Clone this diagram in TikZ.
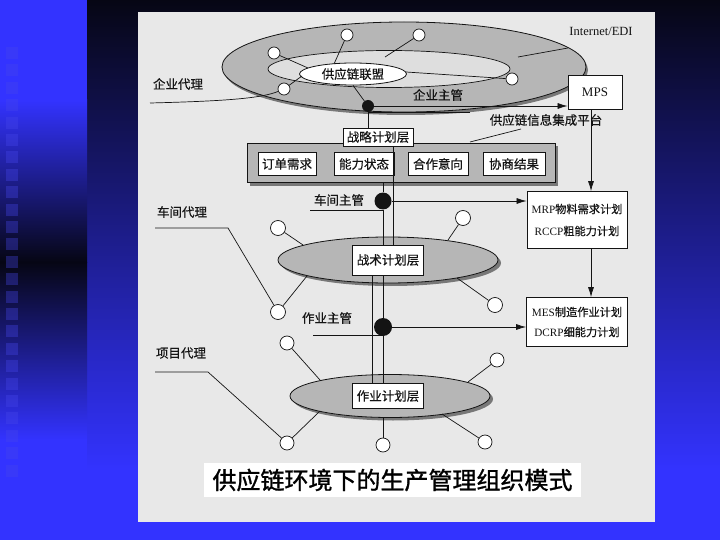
\documentclass[tikz,border=0pt]{standalone}
\usepackage{fontspec}
\setmainfont{Liberation Serif}
\newfontfamily\cjk[FakeBold=0.4]{Noto Sans CJK SC}
\newfontfamily\cjkcap[FakeBold=1.2]{Noto Sans CJK SC}
\usetikzlibrary{shapes.geometric,arrows.meta}
\definecolor{bgblue}{RGB}{51,51,255}
\definecolor{darkbg}{RGB}{6,6,20}
\definecolor{paper}{RGB}{232,232,232}
\definecolor{pat}{RGB}{182,182,182}
\definecolor{holegray}{RGB}{222,222,222}
\definecolor{shadowgray}{RGB}{120,120,120}
\definecolor{ink}{RGB}{20,20,20}
\definecolor{sqblue}{RGB}{70,70,235}
\begin{document}
\begin{tikzpicture}[x=1pt,y=-1pt,
  lbl/.style={font=\cjk\fontsize{12.5}{14}\selectfont, text=ink, inner sep=1pt},
  box/.style={draw=ink, fill=white, line width=0.8pt, text=ink, inner sep=0pt, font=\fontsize{12.5}{14}\selectfont},
  zbox/.style={box, font=\cjk\fontsize{12.5}{14}\selectfont},
  rbox/.style={box, align=center, font=\fontsize{11.2}{13}\selectfont},
  sc/.style={circle, draw=ink, fill=white, line width=0.7pt, minimum size=12pt, inner sep=0pt},
  scb/.style={sc, minimum size=15pt},
  dotn/.style={circle, fill=ink, inner sep=0pt},
  ln/.style={draw=ink, line width=0.7pt},
  arr/.style={ln, -{Latex[length=10pt,width=6pt]}},
  gell/.style={ellipse, draw=ink, fill=pat, line width=0.8pt, inner sep=0pt},
  shell/.style={ellipse, fill=shadowgray, inner sep=0pt}
]
\useasboundingbox (0,0) rectangle (720,540);
% ---------- background ----------
\fill[bgblue] (0,0) rectangle (720,540);
\shade[top color=darkbg, bottom color=bgblue] (87,0) rectangle (720,470);
\shade[top color=bgblue, bottom color=darkbg] (0,100) rectangle (87,262);
\shade[top color=darkbg, bottom color=bgblue] (0,262) rectangle (87,440);
\foreach \i in {0,...,24} \fill[sqblue, opacity=0.35] (6,47+\i*17.4) rectangle ++(12,12);
% ---------- paper ----------
\fill[paper] (138,12) rectangle (655,522);
% ---------- ring ----------
\node[shell, minimum width=364pt, minimum height=90pt] at (406,70) {};
\node[gell, minimum width=364pt, minimum height=90pt] (ring) at (404,67) {};
\node[ellipse, draw=ink, fill=holegray, line width=0.7pt, minimum width=242pt, minimum height=37pt, inner sep=0pt] (hole) at (389,69) {};
\node[ellipse, draw=ink, fill=white, line width=0.8pt, minimum width=107pt, minimum height=22pt, inner sep=0pt, font=\cjk\fontsize{12.5}{14}\selectfont, text=ink] (alli) at (353,74) {供应链联盟};
\node[sc] (ca) at (347,35) {};
\node[sc] (cb) at (419,35) {};
\node[sc] (cc) at (274,53) {};
\node[sc] (cd) at (284,89) {};
\node[sc] (ce) at (512,79) {};
\coordinate (ea) at (334,64);
\coordinate (eb) at (385,57);
\coordinate (ec) at (308,68);
\coordinate (ed) at (302,76);
\coordinate (ee) at (406,72);
\draw[ln] (ca) -- (ea);
\draw[ln] (cb) -- (eb);
\draw[ln] (cc) -- (ec);
\draw[ln] (cd) -- (ed);
\draw[ln] (ce) -- (ee);
\node[font=\fontsize{12.5}{14}\selectfont, text=ink] (inet) at (601,31) {Internet/EDI};
\coordinate (ia) at (518,57);
\coordinate (ib) at (568,48);
\draw[ln] (ia) -- (ib);
% enterprise agent
\node[lbl] (qydl) at (178,84) {企业代理};
\coordinate (qa) at (150,103);
\draw[ln] (qa) .. controls (230,101) and (262,98) .. (cd);
% ---------- strategic layer ----------
\fill[shadowgray] (250,146) rectangle (558,186);
\node[draw=ink, fill=pat, line width=0.8pt, minimum width=308pt, minimum height=39pt, inner sep=0pt] (panel) at (401,162.5) {};
\node[zbox, minimum width=58pt, minimum height=23pt] (b1) at (287,164) {订单需求};
\node[zbox, minimum width=60pt, minimum height=23pt] (b2) at (364,164) {能力状态};
\node[zbox, minimum width=60pt, minimum height=23pt] (b3) at (438,164) {合作意向};
\node[zbox, minimum width=62pt, minimum height=23pt] (b4) at (514,164) {协商结果};
\node[zbox, minimum width=70pt, minimum height=18pt] (zl) at (378,137) {战略计划层};
\node[lbl] (plat) at (546,120) {供应链信息集成平台};
\coordinate (pa) at (470,142);
\coordinate (pb) at (521,129);
\draw[ln] (pa) -- (pb);
% enterprise manager
\node[dotn, minimum size=12pt] (qyzg) at (368,106) {};
\node[lbl] (qyzgl) at (438,95) {企业主管};
\node[box, minimum width=54pt, minimum height=34pt, font=\fontsize{13}{15}\selectfont] (mps) at (595,92) {MPS};
\coordinate (qb) at (470,112);
\draw[ln] (alli.south) -- (qyzg);
\draw[arr] (qyzg) -- (qyzg -| mps.west);
\draw[ln] (qyzg |- qb) -- (qb);
\draw[ln] (qyzg) -- (qyzg |- zl.north);
% right column boxes
\node[rbox, minimum width=100pt, minimum height=57pt] (mrp) at (577,220) {MRP{\cjk 物料需求计划}\\[9pt]RCCP{\cjk 粗能力计划}};
\node[rbox, minimum width=101pt, minimum height=49pt] (mes) at (577,322) {MES{\cjk 制造作业计划}\\[7pt]DCRP{\cjk 细能力计划}};
\coordinate (vx) at (591,0);
\draw[arr] (mps.south -| vx) -- (mrp.north -| vx);
\draw[arr] (mrp.south -| vx) -- (mes.north -| vx);
% ---------- tactical layer ----------
\node[shell, minimum width=220pt, minimum height=46pt] at (391,263) {};
\node[gell, minimum width=220pt, minimum height=46pt] (zsE) at (388,260) {};
\node[zbox, minimum width=71pt, minimum height=30pt] (zs) at (388,260) {战术计划层};
\node[scb] (t1) at (278,228) {};
\node[scb] (t2) at (463,218) {};
\node[scb] (t3) at (278,312) {};
\node[scb] (t4) at (495,305) {};
\coordinate (et1) at (303,245);
\coordinate (et2) at (448,240);
\coordinate (et3) at (307,276);
\coordinate (et4) at (457,278);
\draw[ln] (t1) -- (et1);
\draw[ln] (t2) -- (et2);
\draw[ln] (t3) -- (et3);
\draw[ln] (t4) -- (et4);
\node[lbl] (cjdl) at (182,212) {车间代理};
\coordinate (k1) at (155,228);
\coordinate (k2) at (228,228);
\draw[ln] (k1) -- (k2) -- (t3);
% shop manager
\node[dotn, minimum size=17pt] (cj) at (383,201) {};
\node[lbl] (cjl) at (339,200) {车间主管};
\coordinate (cjs) at (310,210);
\draw[ln] (cjs) -- (cjs -| cj);
\draw[arr] (cj) -- (cj -| mrp.west);
\draw[ln] (panel.south -| cj) -- (cj);
\draw[ln] (cj) -- (zs.north -| cj);
\coordinate (v2) at (393,0);
\draw[ln] (zl.south -| v2) -- (zs.north -| v2);
% ---------- operation layer ----------
\node[shell, minimum width=200pt, minimum height=43pt] at (393,399) {};
\node[gell, minimum width=200pt, minimum height=43pt] (zjE) at (390,396) {};
\node[zbox, minimum width=71pt, minimum height=25pt] (zj) at (388,396) {作业计划层};
\node[scb, minimum size=14pt] (p1) at (287,343) {};
\node[scb, minimum size=14pt] (p2) at (497,360) {};
\node[scb, minimum size=14pt] (p3) at (287,443) {};
\node[scb, minimum size=14pt] (p4) at (383,445) {};
\node[scb, minimum size=14pt] (p5) at (485,442) {};
\coordinate (ep1) at (320,380);
\coordinate (ep2) at (468,382);
\coordinate (ep3) at (320,411);
\coordinate (ep5) at (442,414);
\draw[ln] (p1) -- (ep1);
\draw[ln] (p2) -- (ep2);
\draw[ln] (p3) -- (ep3);
\draw[ln] (p4) -- (p4 |- zjE.south);
\draw[ln] (p5) -- (ep5);
\node[lbl] (xmdl) at (181,353) {项目代理};
\coordinate (m1) at (155,372);
\coordinate (m2) at (208,372);
\draw[ln] (m1) -- (m2) -- (p3);
% operation manager
\node[dotn, minimum size=18pt] (zy) at (383,327) {};
\node[lbl] (zyl) at (327,318) {作业主管};
\coordinate (zys) at (313,335);
\draw[ln] (zys) -- (zys -| zy);
\draw[arr] (zy) -- (zy -| mes.west);
\coordinate (v3) at (372,0);
\draw[ln] (zs.south -| v3) -- (zj.north -| v3);
\draw[ln] (zs.south -| zy) -- (zy);
\draw[ln] (zy) -- (zj.north -| zy);
% ---------- caption ----------
\node[fill=white, minimum width=377pt, minimum height=34pt, inner sep=0pt, font=\cjkcap\fontsize{24}{26}\selectfont, text=black] (cap) at (392.5,480) {供应链环境下的生产管理组织模式};
\end{tikzpicture}
\end{document}
